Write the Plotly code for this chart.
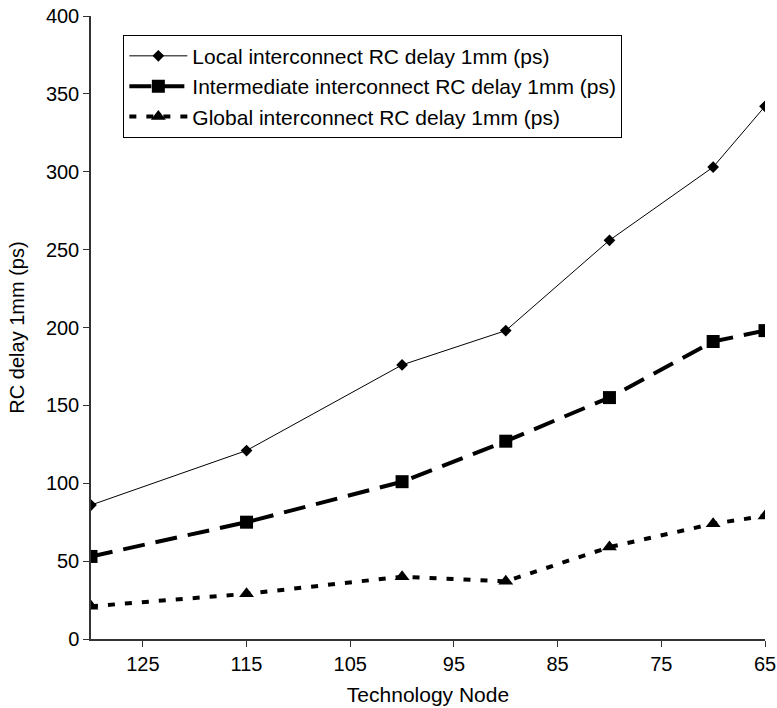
import plotly.graph_objects as go

nodes = [130, 115, 100, 90, 80, 70, 65]
local_delay = [86, 121, 176, 198, 256, 303, 342]
intermediate_delay = [53, 75, 101, 127, 155, 191, 198]
global_delay = [21, 29, 40, 37, 59, 74, 79]
x_ticks = [125, 115, 105, 95, 85, 75, 65]
y_ticks = [0, 50, 100, 150, 200, 250, 300, 350, 400]

fig = go.Figure()
fig.add_trace(go.Scatter(x=nodes, y=local_delay, mode="lines+markers",
                         name="Local interconnect RC delay 1mm (ps)",
                         line=dict(color="black", width=1),
                         marker=dict(symbol="diamond", size=9, color="black")))
fig.add_trace(go.Scatter(x=nodes, y=intermediate_delay, mode="lines+markers",
                         name="Intermediate interconnect RC delay 1mm (ps)",
                         line=dict(color="black", width=4, dash="22px,11px"),
                         marker=dict(symbol="square", size=13, color="black")))
fig.add_trace(go.Scatter(x=nodes, y=global_delay, mode="lines+markers",
                         name="Global interconnect RC delay 1mm (ps)",
                         line=dict(color="black", width=4, dash="7px,10px"),
                         marker=dict(symbol="triangle-up", size=13, color="black")))

font = "Liberation Sans, Arial, sans-serif"
fig.update_layout(
    width=777, height=708,
    margin=dict(l=91, r=12, t=16, b=69, autoexpand=False),
    paper_bgcolor="white", plot_bgcolor="white",
    font=dict(family=font, size=20, color="black"),
    showlegend=True,
    legend=dict(x=0.048, y=0.970, xanchor="left", yanchor="top",
                bordercolor="black", borderwidth=1, bgcolor="white",
                font=dict(size=21), tracegroupgap=0, itemwidth=58),
    xaxis=dict(range=[130, 65], tickvals=x_ticks, showgrid=False, zeroline=False,
               showline=True, linecolor="#333", linewidth=1.5, automargin=False,
               ticks="outside", ticklen=6, tickcolor="#333",
               title=dict(text="Technology Node", font=dict(size=21), standoff=14),
               tickfont=dict(size=20)),
    yaxis=dict(range=[0, 400], tickvals=y_ticks, showgrid=False, zeroline=False,
               showline=True, linecolor="#333", linewidth=1.5, automargin=False,
               ticks="outside", ticklen=6, tickcolor="#333",
               title=dict(text="RC delay 1mm (ps)", font=dict(size=20), standoff=16),
               tickfont=dict(size=20)),
)

fig.write_html("out.html")
